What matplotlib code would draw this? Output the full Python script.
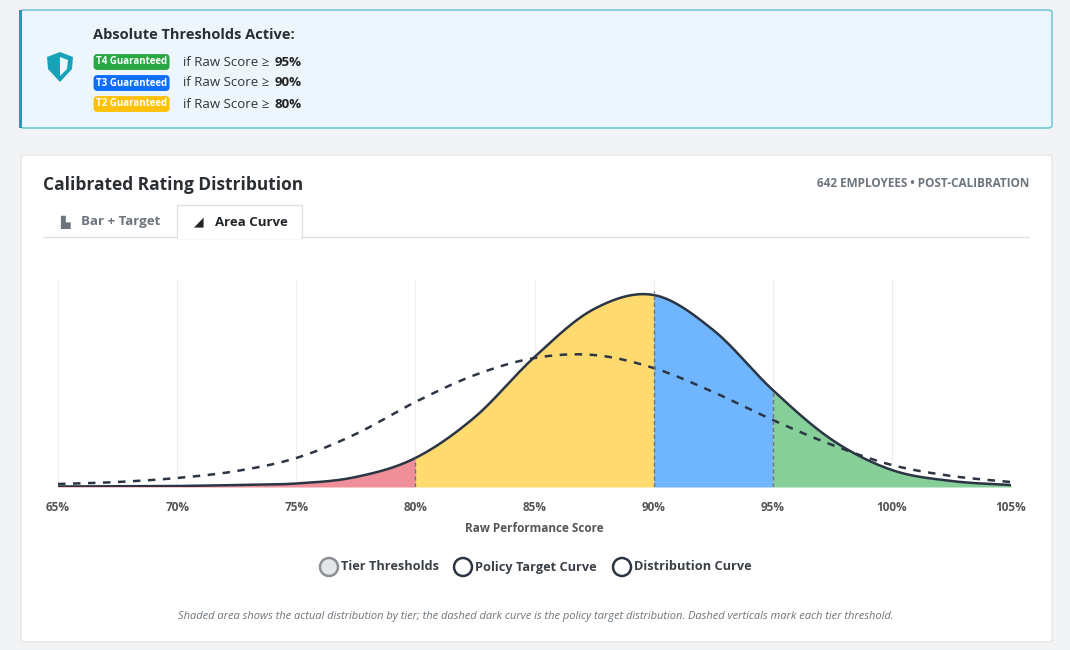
import numpy as np
import matplotlib
matplotlib.use("Agg")
import matplotlib.pyplot as plt
from matplotlib.patches import FancyBboxPatch, Rectangle, Polygon, Ellipse

plt.rcParams['font.family'] = ['Open Sans', 'DejaVu Sans']

# ---- data ----
score = [65, 67.5, 70, 72.5, 75, 77.5, 80, 82.5, 85, 87.5, 90, 92.5, 95, 97.5, 100, 102.5, 105]
actual = [0.5, 0.7, 1.0, 2.0, 3.5, 10, 29, 70, 130, 178, 192, 157, 97, 47, 17, 6, 2]
target_x = [65, 67.5, 70, 72.5, 75, 77.5, 80, 82.5, 85, 87.5, 90, 92.5, 95, 97.5, 100, 102.5, 105]
target = [3, 5, 9, 16, 29, 53, 85, 112, 129, 132, 119, 95, 67, 42, 22, 11, 5]
thresholds = [80, 90, 95]
tier_edges = [65, 80, 90, 95, 105]
tier_colors = ['#ef8f99', '#ffda6f', '#6fb6ff', '#86cf98']
xticks = [65, 70, 75, 80, 85, 90, 95, 100, 105]
xlabels = ['65%', '70%', '75%', '80%', '85%', '90%', '95%', '100%', '105%']

def smooth(xs, ys, n=40):
    xs = np.asarray(xs, float); ys = np.asarray(ys, float)
    ox, oy = [], []
    m = len(xs)
    for i in range(m - 1):
        p0 = i - 1 if i > 0 else i
        p3 = i + 2 if i + 2 < m else i + 1
        t = np.linspace(0, 1, n, endpoint=False)
        for arr, out in ((xs, ox), (ys, oy)):
            P0, P1, P2, P3 = arr[p0], arr[i], arr[i + 1], arr[p3]
            out.extend(0.5 * ((2 * P1) + (-P0 + P2) * t + (2 * P0 - 5 * P1 + 4 * P2 - P3) * t**2 + (-P0 + 3 * P1 - 3 * P2 + P3) * t**3))
    ox.append(xs[-1]); oy.append(ys[-1])
    return np.array(ox), np.clip(np.array(oy), 0, None)

W, H = 1070, 650
fig = plt.figure(figsize=(W / 100, H / 100), dpi=100)
fig.patch.set_facecolor('#f2f3f5')

def px(x, y):
    return x / W, 1 - y / H

def addp(p, z=-5):
    p.set_zorder(z)
    fig.patches.append(p)

# banner
addp(FancyBboxPatch(px(20, 128), 1032 / W, 118 / H, boxstyle="round,pad=0,rounding_size=0.004",
                    transform=fig.transFigure, fc='#eef6fd', ec='#5bc2d4', lw=1))
addp(Rectangle(px(19, 128), 3 / W, 118 / H, transform=fig.transFigure, fc='#17a2b8', ec='none'), -4)
sx, sy = 60, 67
shield = [(sx - 13, sy - 10), (sx, sy - 15), (sx + 13, sy - 10), (sx + 12, sy + 2), (sx, sy + 15), (sx - 12, sy + 2)]
addp(Polygon([px(a, b) for a, b in shield], closed=True, transform=fig.transFigure, fc='#17a2b8', ec='none'), -4)
inner = [(sx, sy - 10), (sx + 8, sy - 7), (sx + 7, sy + 2), (sx, sy + 9)]
addp(Polygon([px(a, b) for a, b in inner], closed=True, transform=fig.transFigure, fc='#eef6fd', ec='none'), -3)

fig.text(*px(93, 35), 'Absolute Thresholds Active:', fontsize=10.5, fontweight='bold', color='#2b2f33', va='center')
badges = [('T4 Guaranteed', '#28a745', '95%'), ('T3 Guaranteed', '#0d6efd', '90%'), ('T2 Guaranteed', '#ffc107', '80%')]
for i, (lab, col, v) in enumerate(badges):
    y = 62 + 21 * i
    fig.text(*px(96, y), lab, fontsize=7, color='white', fontweight='bold', va='center',
             bbox=dict(boxstyle='round,pad=0.25,rounding_size=0.4', fc=col, ec='none'))
    fig.text(*px(183, y), 'if Raw Score ≥', fontsize=9.5, color='#333', va='center')
    fig.text(*px(275, y), v, fontsize=9.5, color='#222', fontweight='bold', va='center')

# card
addp(FancyBboxPatch(px(21, 642), 1031 / W, 487 / H, boxstyle="round,pad=0,rounding_size=0.004",
                    transform=fig.transFigure, fc='white', ec='#e6e7e9', lw=1))
fig.text(*px(43, 185), 'Calibrated Rating Distribution', fontsize=12.5, fontweight='bold', color='#2b2f33', va='center')
fig.text(*px(1029, 184), '642 EMPLOYEES • POST-CALIBRATION', fontsize=8.5, fontweight='bold', color='#6c757d', va='center', ha='right')
fig.add_artist(plt.Line2D([43 / W, 1029 / W], [1 - 237 / H] * 2, color='#dee2e6', lw=1, zorder=-4))
addp(Rectangle(px(177, 238), 125 / W, 33 / H, transform=fig.transFigure, fc='white', ec='#dee2e6', lw=1), -3)
addp(Rectangle(px(178, 239), 123 / W, 3 / H, transform=fig.transFigure, fc='white', ec='none'), -2)
fig.text(*px(60, 222), '\u2599', fontsize=9, color='#6c757d', va='center')
fig.text(*px(81, 222), 'Bar + Target', fontsize=9.5, fontweight='bold', color='#6c757d', va='center')
fig.text(*px(194, 222), '\u25e2', fontsize=9, color='#212529', va='center')
fig.text(*px(215, 222), 'Area Curve', fontsize=9.5, fontweight='bold', color='#212529', va='center')

# chart
ax = fig.add_axes([58 / W, 1 - 487 / H, (1011 - 58) / W, (487 - 280) / H])
ax.set_zorder(5)
ax.patch.set_alpha(0)
ax.set_xlim(65, 105)
ax.set_ylim(0, 207)
sxv, syv = smooth(score, actual)
for (a, b), c in zip(zip(tier_edges[:-1], tier_edges[1:]), tier_colors):
    m = (sxv >= a) & (sxv <= b)
    ax.fill_between(sxv[m], 0, syv[m], color=c, lw=0)
ax.plot(sxv, syv, color='#2b3544', lw=1.8)
tx, ty = smooth(target_x, target)
ax.plot(tx, ty, color='#2b3544', lw=1.8, ls=(0, (3, 3)))
for t in thresholds:
    yv = np.interp(t, sxv, syv)
    ax.plot([t, t], [0, yv + (4 if t == 90 else 0)], color='#6c757d', lw=1, ls=(0, (3, 2)))
for x in xticks:
    ax.axvline(x, color='#eeeeee', lw=0.8, zorder=0)
ax.axhline(0, color='#dddddd', lw=0.8, zorder=0)
ax.set_xticks(xticks, xlabels)
ax.tick_params(axis='x', length=0, labelsize=8.5, colors='#555', pad=10)
for l in ax.get_xticklabels():
    l.set_fontweight('bold')
ax.set_yticks([])
for s in ax.spines.values():
    s.set_visible(False)
ax.set_xlabel('Raw Performance Score', fontsize=8.5, fontweight='bold', color='#555', labelpad=6)

# legend
items = [(329, 'Tier Thresholds', '#e4e6e9', '#8a9096'), (463, 'Policy Target Curve', 'white', '#2b3544'),
         (622, 'Distribution Curve', 'white', '#2b3544')]
for x, lab, fc, ec in items:
    fig.patches.append(Ellipse(px(x, 567), 18 / W, 18 / H, transform=fig.transFigure, fc=fc, ec=ec, lw=1.8))
    fig.text(*px(x + 12, 567), lab, fontsize=9.2, fontweight='bold', color='#3a4047', va='center')

fig.text(*px(536, 617), 'Shaded area shows the actual distribution by tier; the dashed dark curve is the policy target distribution. Dashed verticals mark each tier threshold.',
         fontsize=8, style='italic', color='#6c757d', ha='center', va='center')

fig.savefig('out.png', dpi=100, facecolor=fig.get_facecolor())
